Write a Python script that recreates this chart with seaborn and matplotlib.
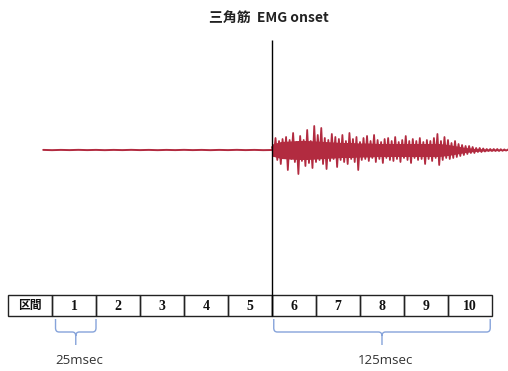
import numpy as np
import pandas as pd
import seaborn as sns
import matplotlib.pyplot as plt
from matplotlib.path import Path
from matplotlib.patches import PathPatch, Rectangle

# ---- data ----
title_text = '三角筋  EMG onset'
interval_label = '区間'
interval_names = ['1', '2', '3', '4', '5', '6', '7', '8', '9', '10']
interval_ms = 25          # each interval is 25 msec
onset_ms = 125            # EMG onset (start of interval 6)
brace_labels = ['25msec', '125msec']
brace_spans = [(2, 25), (126, 249)]   # ms

# resting baseline before onset, every 5 ms from -5 ms (mV)
rest_amp = [0.002, -0.003, 0.002, -0.002, 0.003, -0.002, 0.002, -0.003,
            0.002, -0.002, 0.003, -0.002, 0.002, -0.003, 0.002, -0.002,
            0.003, -0.002, 0.002, -0.003, 0.002, -0.002, 0.003, -0.002,
            0.002, -0.003, 0.002, -0.002]

# burst after onset, every 1 ms from 125 ms (mV)
burst_amp = [0.06, -0.12, 0.24, -0.20, 0.18, -0.28, 0.22, -0.16, 0.26, -0.40,
             0.20, -0.18, 0.34, -0.24, 0.16, -0.48, 0.28, -0.22, 0.20, -0.32,
             0.40, -0.26, 0.18, -0.36, 0.48, -0.24, 0.30, -0.20, 0.44, -0.28,
             0.24, -0.38, 0.20, -0.22, 0.32, -0.18, 0.26, -0.34, 0.22, -0.20,
             0.30, -0.24, 0.18, -0.28, 0.34, -0.18, 0.22, -0.24, 0.26, -0.40,
             0.16, -0.20, 0.24, -0.18, 0.28, -0.22, 0.18, -0.16, 0.30, -0.24,
             0.20, -0.18, 0.16, -0.26, 0.22, -0.16, 0.24, -0.20, 0.18, -0.22,
             0.26, -0.18, 0.16, -0.24, 0.20, -0.16, 0.28, -0.20, 0.18, -0.26,
             0.22, -0.16, 0.18, -0.20, 0.24, -0.18, 0.16, -0.28, 0.20, -0.18,
             0.18, -0.22, 0.24, -0.16, 0.32, -0.30, 0.18, -0.20, 0.26, -0.16,
             0.20, -0.18, 0.14, -0.16, 0.18, -0.14, 0.12, -0.12, 0.10, -0.10,
             0.08, -0.08, 0.08, -0.06, 0.06, -0.06, 0.04, -0.04, 0.04, -0.04,
             0.03, -0.03, 0.02, -0.02, 0.02, -0.02, 0.02, -0.02, 0.02, -0.02,
             0.016, -0.016, 0.012, -0.012, 0.01]

# dense core band of the burst (half-width), every 5 ms from 125 ms (mV)
core_t = [125, 130, 135, 140, 145, 150, 155, 160, 165, 170, 175, 180, 185, 190,
          195, 200, 205, 210, 215, 220, 225, 230, 235, 240, 245, 250, 255, 259]
core_env = [0.12, 0.17, 0.18, 0.19, 0.19, 0.18, 0.17, 0.16, 0.15, 0.15, 0.14, 0.14,
            0.13, 0.13, 0.13, 0.13, 0.13, 0.13, 0.13, 0.13, 0.11, 0.08, 0.05, 0.03,
            0.02, 0.015, 0.012, 0.01]

rest_t = np.arange(len(rest_amp)) * 5 - 5
burst_t = np.arange(len(burst_amp)) + onset_ms
rest_df = pd.DataFrame({'time': np.append(rest_t, onset_ms), 'amp': rest_amp + [0.0]})
burst_df = pd.DataFrame({'time': burst_t, 'amp': burst_amp})

sig_color = '#b22b40'
brace_color = '#86a3da'

sns.set_style('white')
fig = plt.figure(figsize=(5.08, 3.71), dpi=100)
ax = fig.add_axes([0, 0, 1, 1])

sns.lineplot(data=rest_df, x='time', y='amp', color=sig_color, linewidth=1.4,
             estimator=None, ax=ax)
ax.fill_between(core_t, [-v for v in core_env], core_env, color=sig_color,
                linewidth=0)
sns.lineplot(data=burst_df, x='time', y='amp', color=sig_color, linewidth=1.3,
             estimator=None, ax=ax)

# onset marker
ax.vlines(onset_ms, -3.32, 2.2, color='black', linewidth=1.0, zorder=5)

# title
ax.text(onset_ms - 2, 2.64, title_text, ha='center', va='center', fontsize=10,
        fontweight='bold', family=['Noto Sans CJK JP', 'DejaVu Sans'], color='#222222')

# interval table
row_top, row_bot = -2.9, -3.32
edges = [-interval_ms + i * interval_ms for i in range(len(interval_names) + 2)]
for i, lab in enumerate([interval_label] + interval_names):
    ax.add_patch(Rectangle((edges[i], row_bot), interval_ms, row_top - row_bot,
                           facecolor='none', edgecolor='#222222', linewidth=1.0))
    if i == 0:
        ax.text((edges[i] + edges[i + 1]) / 2, (row_top + row_bot) / 2, lab,
                ha='center', va='center', fontsize=8.5, fontweight='bold',
                family=['Noto Sans CJK JP'], color='#111111')
    else:
        ax.text((edges[i] + edges[i + 1]) / 2, (row_top + row_bot) / 2 - 0.01, lab,
                ha='center', va='center', fontsize=10, fontweight='bold',
                family=['Liberation Serif'], color='#111111')


def brace(x0, x1, ytop, ymid, ytip, rx, ry):
    xc = (x0 + x1) / 2
    verts = [(x0, ytop), (x0, ymid + ry), (x0, ymid), (x0 + rx, ymid),
             (xc - rx, ymid), (xc, ymid), (xc, ymid - ry), (xc, ytip),
             (xc, ymid - ry), (xc, ymid), (xc + rx, ymid),
             (x1 - rx, ymid), (x1, ymid), (x1, ymid + ry), (x1, ytop)]
    codes = [Path.MOVETO, Path.LINETO, Path.CURVE3, Path.CURVE3,
             Path.LINETO, Path.CURVE3, Path.CURVE3, Path.LINETO,
             Path.MOVETO, Path.CURVE3, Path.CURVE3,
             Path.LINETO, Path.CURVE3, Path.CURVE3, Path.LINETO]
    return PathPatch(Path(verts, codes), facecolor='none', edgecolor=brace_color,
                     linewidth=1.0)


for (s, e), lab in zip(brace_spans, brace_labels):
    ax.add_patch(brace(s, e, -3.38, -3.64, -3.9, 2.0, 0.08))
    ax.text((s + e) / 2 + 2, -4.22, lab, ha='center', va='center', fontsize=9.5,
            family=['Open Sans'], color='#333333')

ax.set_xlim(-29.55, 259.1)
ax.set_ylim(-4.42, 3.0)
ax.axis('off')
fig.savefig('out.png', dpi=100)
